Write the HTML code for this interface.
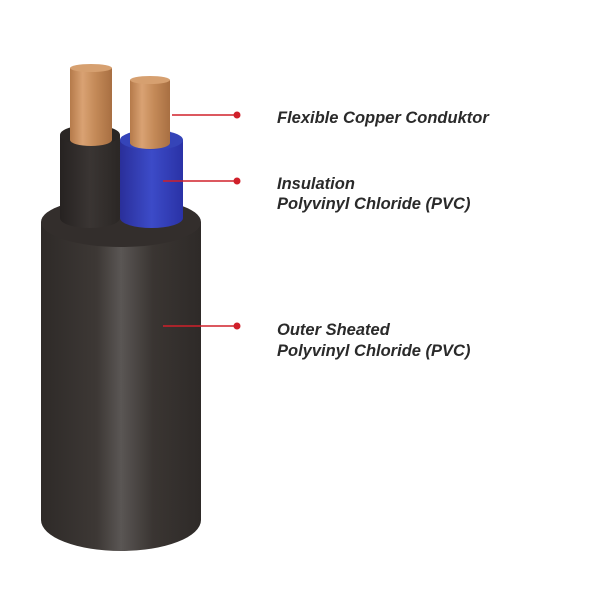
<!DOCTYPE html>
<html><head><style>
body{margin:0;background:#fff;width:600px;height:600px;overflow:hidden}
</style></head><body>
<svg width="600" height="600" viewBox="0 0 600 600" xmlns="http://www.w3.org/2000/svg">
<defs>
<linearGradient id="blk" x1="0" x2="1">
<stop offset="0" stop-color="#2e2a28"/><stop offset="0.35" stop-color="#3d3835"/><stop offset="0.5" stop-color="#5a5654"/><stop offset="0.7" stop-color="#3a3532"/><stop offset="1" stop-color="#2e2a28"/>
</linearGradient>
<linearGradient id="cu" x1="0" x2="1">
<stop offset="0" stop-color="#b57a4a"/><stop offset="0.3" stop-color="#d9a273"/><stop offset="0.6" stop-color="#c48a58"/><stop offset="1" stop-color="#a86f42"/>
</linearGradient>
<linearGradient id="bl" x1="0" x2="1">
<stop offset="0" stop-color="#2a2f9a"/><stop offset="0.5" stop-color="#3c4bc8"/><stop offset="1" stop-color="#2a32a6"/>
</linearGradient>
<linearGradient id="core" x1="0" x2="1">
<stop offset="0" stop-color="#262221"/><stop offset="0.5" stop-color="#3a3533"/><stop offset="1" stop-color="#2b2725"/>
</linearGradient>
</defs>
<path d="M41 222 L41 520 A80 31 0 0 0 201 520 L201 222 Z" fill="url(#blk)"/>
<ellipse cx="121" cy="222" rx="80" ry="25" fill="#332e2c"/>
<path d="M60 135 L60 218 A30 10 0 0 0 120 218 L120 135 Z" fill="url(#core)"/>
<ellipse cx="90" cy="135" rx="30" ry="10" fill="#2a2624"/>
<path d="M70 68 L70 140 A21 6 0 0 0 112 140 L112 68 Z" fill="url(#cu)"/>
<ellipse cx="91" cy="68" rx="21" ry="4" fill="#d6a070"/>
<path d="M120 140 L120 218 A31.5 10 0 0 0 183 218 L183 140 Z" fill="url(#bl)"/>
<ellipse cx="151.5" cy="140" rx="31.5" ry="10" fill="#3544b8"/>
<path d="M130 80 L130 143 A20 6 0 0 0 170 143 L170 80 Z" fill="url(#cu)"/>
<ellipse cx="150" cy="80" rx="20" ry="4" fill="#d6a070"/>
<g stroke="#d0202a" stroke-width="1.5">
<line x1="172" y1="115" x2="237" y2="115"/>
<line x1="163" y1="181" x2="237" y2="181"/>
<line x1="163" y1="326" x2="237" y2="326"/>
</g>
<g fill="#d0202a">
<circle cx="237" cy="115" r="3.5"/><circle cx="237" cy="181" r="3.5"/><circle cx="237" cy="326" r="3.5"/>
</g>
<g font-family="Liberation Sans, sans-serif" font-style="italic" font-weight="bold" font-size="16.5" fill="#2a2a2a">
<text x="277" y="123">Flexible Copper Conduktor</text>
<text x="277" y="189">Insulation</text>
<text x="277" y="209">Polyvinyl Chloride (PVC)</text>
<text x="277" y="335">Outer Sheated</text>
<text x="277" y="356">Polyvinyl Chloride (PVC)</text>
</g>
</svg>
</body></html>
